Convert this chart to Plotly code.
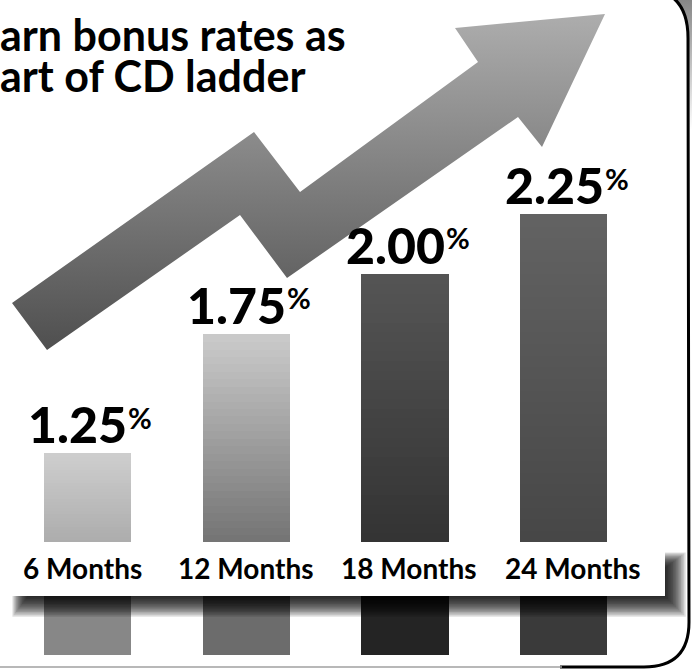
import plotly.graph_objects as go

# ---------------- data ----------------
categories = ["6 Months", "12 Months", "18 Months", "24 Months"]
rates = [1.25, 1.75, 2.00, 2.25]
rate_labels = ["1.25", "1.75", "2.00", "2.25"]
title_lines = ["arn bonus rates as", "art of CD ladder"]

# ---------------- styles ----------------
bar_top_colors = ["#cecece", "#cbcbcb", "#555555", "#636363"]
bar_bottom_colors = ["#acacac", "#737373", "#333333", "#464646"]
lower_colors = ["#878787", "#6c6c6c", "#242424", "#3a3a3a"]

W, H = 692, 670
Y_MIN, Y_MAX = 0.345, 3.144      # value range of the bar axis
X_MIN, X_MAX = -0.551, 3.809     # category-index range
BASE = 0.88                      # value at top edge of label strip
STRIP_BOTTOM = 0.654
LOWER_BOTTOM = 0.408
BAR_W = 0.55
FONT = "Lato"


def hex2rgb(h):
    h = h.lstrip("#")
    return tuple(int(h[i:i + 2], 16) for i in (0, 2, 4))


def mix(c0, c1, t):
    a, b = hex2rgb(c0), hex2rgb(c1)
    return "rgb(%d,%d,%d)" % tuple(round(a[i] + (b[i] - a[i]) * t) for i in range(3))


fig = go.Figure()

# --- gradient bars (stacked slices computed from the values) ---
N = 28
eps = 0.004
for k in range(N):
    f0 = k / N
    bases, heights, cols = [], [], []
    for i, v in enumerate(rates):
        h = (v - BASE) / N
        b = BASE + (v - BASE) * f0
        if k > 0:
            b -= eps
            h += eps
        bases.append(b)
        heights.append(h)
        cols.append(mix(bar_bottom_colors[i], bar_top_colors[i], (k + 0.5) / N))
    fig.add_trace(go.Bar(x=categories, y=heights, base=bases, width=BAR_W,
                         marker=dict(color=cols, line=dict(width=0)),
                         hoverinfo="skip", showlegend=False))

# --- part of bars below the label strip ---
fig.add_trace(go.Bar(x=categories, y=[STRIP_BOTTOM - LOWER_BOTTOM + 0.01] * 4,
                     base=[LOWER_BOTTOM] * 4, width=BAR_W,
                     marker=dict(color=lower_colors, line=dict(width=0)),
                     hoverinfo="skip", showlegend=False))

# --- decorative arrow (pixel coordinates on an overlay axis) ---
arrow_px = [(12, 303), (254, 132), (300, 192), (478, 62), (455, 28), (605, 14),
            (542, 147), (518, 117), (287, 278), (240, 215), (47, 350), (12, 303)]
fig.add_trace(go.Scatter(x=[p[0] for p in arrow_px], y=[H - p[1] for p in arrow_px],
                         xaxis="x2", yaxis="y2", mode="lines", line=dict(width=0),
                         fill="toself",
                         fillgradient=dict(type="vertical",
                                           colorscale=[[0, "#4f4f4f"], [1, "#adadad"]]),
                         hoverinfo="skip", showlegend=False))

# --- gray bevel outside the panel's top-right corner ---
bev = []
for j in range(21):
    t = j / 20
    x = (1 - t) ** 2 * 640 + 2 * (1 - t) * t * 688 + t ** 2 * 688
    y = (1 - t) ** 2 * (-12) + 2 * (1 - t) * t * (-12) + t ** 2 * 38
    bev.append((x, y))
bev += [(688, 130), (700, 130), (700, -12)]
fig.add_trace(go.Scatter(x=[p[0] for p in bev], y=[H - p[1] for p in bev],
                         xaxis="x2", yaxis="y2", mode="lines", line=dict(width=0),
                         fill="toself",
                         fillgradient=dict(type="vertical",
                                           colorscale=[[0, "#ffffff"], [1, "#7c7c7c"]]),
                         hoverinfo="skip", showlegend=False))

shapes = []
# shadow of the label strip
S = 14
for i in range(S):
    shapes.append(dict(type="rect", xref="x2", yref="y2",
                       x0=28 - i * 1.2, x1=665 + i * 1.6,
                       y0=H - (568 - i * 1.2), y1=H - (596 + i * 1.6),
                       fillcolor="rgba(0,0,0,0.12)", line=dict(width=0), layer="above"))
# white label strip
shapes.append(dict(type="rect", xref="x2", yref="y2", x0=-5, x1=665,
                   y0=H - 542, y1=H - 596, fillcolor="white",
                   line=dict(width=0), layer="above"))


def P(x, y):
    return "%g,%g" % (x, H - y)


border = ("M " + P(640, -12) + " Q " + P(688, -12) + " " + P(688, 38) +
          " L " + P(689, 622) + " Q " + P(689, 667) + " " + P(644, 667) +
          " L " + P(560, 667))
shapes.append(dict(type="path", xref="x2", yref="y2", path=border,
                   line=dict(color="black", width=3), layer="above"))
shapes.append(dict(type="path", xref="x2", yref="y2",
                   path="M " + P(562, 667) + " L " + P(-5, 667),
                   line=dict(color="#a0a0a0", width=1.5), layer="above"))

annotations = []
# title (baselines at 52 and 93 px)
TS = 43
for line, base_px in zip(title_lines, [52, 93]):
    annotations.append(dict(text=line, xref="paper", yref="paper", x=-2 / W,
                            y=1 - (base_px + 0.213 * TS + 1) / H,
                            xanchor="left", yanchor="bottom", showarrow=False,
                            font=dict(family=FONT, size=TS, color="black", weight=700)))
# value labels: number right-aligned, percent sign left-aligned at a split point
NS, PS = 50, 29
SPLIT = 42
for c, v, lab in zip(categories, rates, rate_labels):
    annotations.append(dict(text=lab, x=c, y=v, xref="x", yref="y",
                            xanchor="right", yanchor="bottom", showarrow=False,
                            xshift=SPLIT, yshift=-3,
                            font=dict(family=FONT, size=NS, color="black", weight=900)))
    annotations.append(dict(text="%", x=c, y=v, xref="x", yref="y",
                            xanchor="left", yanchor="bottom", showarrow=False,
                            xshift=SPLIT - 3, yshift=16.5,
                            font=dict(family=FONT, size=PS, color="black", weight=700)))
# category labels (baseline at 580 px)
CS = 28
for i, c in enumerate(categories):
    annotations.append(dict(text=c, x=c, y=1 - (580 + 0.213 * CS + 1) / H,
                            xref="x", yref="paper",
                            xanchor="center", yanchor="bottom", showarrow=False,
                            xshift=-5 + 4.8 * i,
                            font=dict(family=FONT, size=CS, color="black", weight=700)))

fig.update_layout(
    width=W, height=H,
    margin=dict(l=0, r=0, t=0, b=0),
    paper_bgcolor="white", plot_bgcolor="rgba(0,0,0,0)",
    barmode="overlay", bargap=0,
    xaxis=dict(type="category", range=[X_MIN, X_MAX], visible=False, domain=[0, 1]),
    yaxis=dict(range=[Y_MIN, Y_MAX], visible=False, domain=[0, 1]),
    xaxis2=dict(range=[0, W], overlaying="x", visible=False, domain=[0, 1]),
    yaxis2=dict(range=[0, H], overlaying="y", visible=False, domain=[0, 1]),
    shapes=shapes, annotations=annotations,
    showlegend=False,
)

fig.write_html("out.html", config=dict(displayModeBar=False),
               post_script="document.body.style.margin='0';"
                           "document.body.style.overflow='hidden';")
